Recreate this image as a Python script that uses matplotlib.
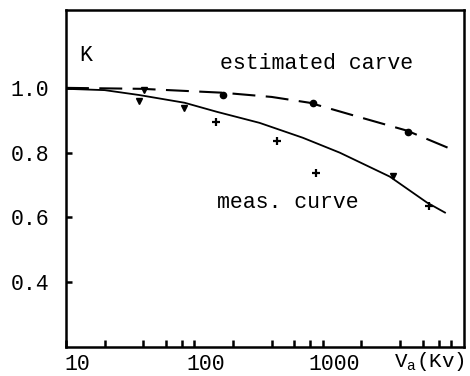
import numpy as np
import matplotlib.pyplot as plt
from matplotlib.transforms import ScaledTranslation

plt.rcParams['font.family'] = 'Liberation Mono'
plt.rcParams['mathtext.fontset'] = 'custom'
plt.rcParams['mathtext.rm'] = 'Liberation Mono'

# traced curves (V in kV, K)
meas_v = [10, 20, 37, 84, 150, 322, 700, 1358, 3335, 6494, 8975]
meas_k = [0.997, 0.993, 0.978, 0.954, 0.926, 0.892, 0.846, 0.80, 0.726, 0.646, 0.615]
est_v = [10, 39, 166, 400, 791, 2000, 4530, 9480]
est_k = [1.0, 0.997, 0.985, 0.972, 0.954, 0.908, 0.868, 0.815]

# measured points
tri_v = [37, 40.7, 83.6, 3520]
tri_k = [0.96, 0.994, 0.938, 0.729]
dot_v = [166, 838, 4600]
dot_k = [0.978, 0.954, 0.865]
plus_v = [148, 437, 882, 6720]
plus_k = [0.895, 0.837, 0.738, 0.634]

minor_ticks = [20, 40, 60, 80, 200, 400, 600, 800, 2000, 4000, 6000, 8000]
major_ticks = [10, 100, 1000, 10000]
major_labels = ['10', '100', '1000', '']
y_ticks = [0.4, 0.6, 0.8, 1.0]

fig = plt.figure(figsize=(4.7, 3.76), dpi=100)
ax = fig.add_axes([0.1404, 0.0771, 0.8466, 0.896])

ax.plot(meas_v, meas_k, 'k-', lw=1.3)
ax.plot(est_v, est_k, 'k--', lw=1.5, dashes=(11, 5))
ax.plot(tri_v, tri_k, 'kv', ms=5)
ax.plot(dot_v, dot_k, 'ko', ms=4.5)
ax.plot(plus_v, plus_k, 'k+', ms=6, mew=1.6)

ax.set_xscale('log')
ax.set_xlim(10, 12600)
ax.set_ylim(0.2, 1.24)

ax.set_xticks(major_ticks)
ax.set_xticklabels(major_labels)
ax.set_xticks(minor_ticks, minor=True)
ax.set_xticklabels([], minor=True)
ax.set_yticks(y_ticks)
ax.set_yticklabels(['0.4', '0.6', '0.8', '1.0'])

ax.tick_params(which='both', direction='in', width=1.8, labelsize=15.5)
ax.tick_params(axis='x', which='major', length=5, pad=5)
ax.tick_params(axis='x', which='minor', length=5)
ax.tick_params(axis='y', length=4, pad=12)
for lab in ax.get_xticklabels():
    lab.set_transform(lab.get_transform() + ScaledTranslation(8 / 72, 0, fig.dpi_scale_trans))

for s in ax.spines.values():
    s.set_linewidth(1.8)

ax.text(0.033, 0.866, 'K', transform=ax.transAxes, fontsize=15.5, va='center')
ax.text(0.387, 0.843, 'estimated carve', transform=ax.transAxes, fontsize=15.5, va='center')
ax.text(0.38, 0.43, 'meas. curve', transform=ax.transAxes, fontsize=15.5, va='center')
ax.text(1.003, -0.042, 'V$_\\mathrm{a}$(Kv)', transform=ax.transAxes, fontsize=15,
        ha='right', va='center')

fig.savefig('out.png', dpi=100)
